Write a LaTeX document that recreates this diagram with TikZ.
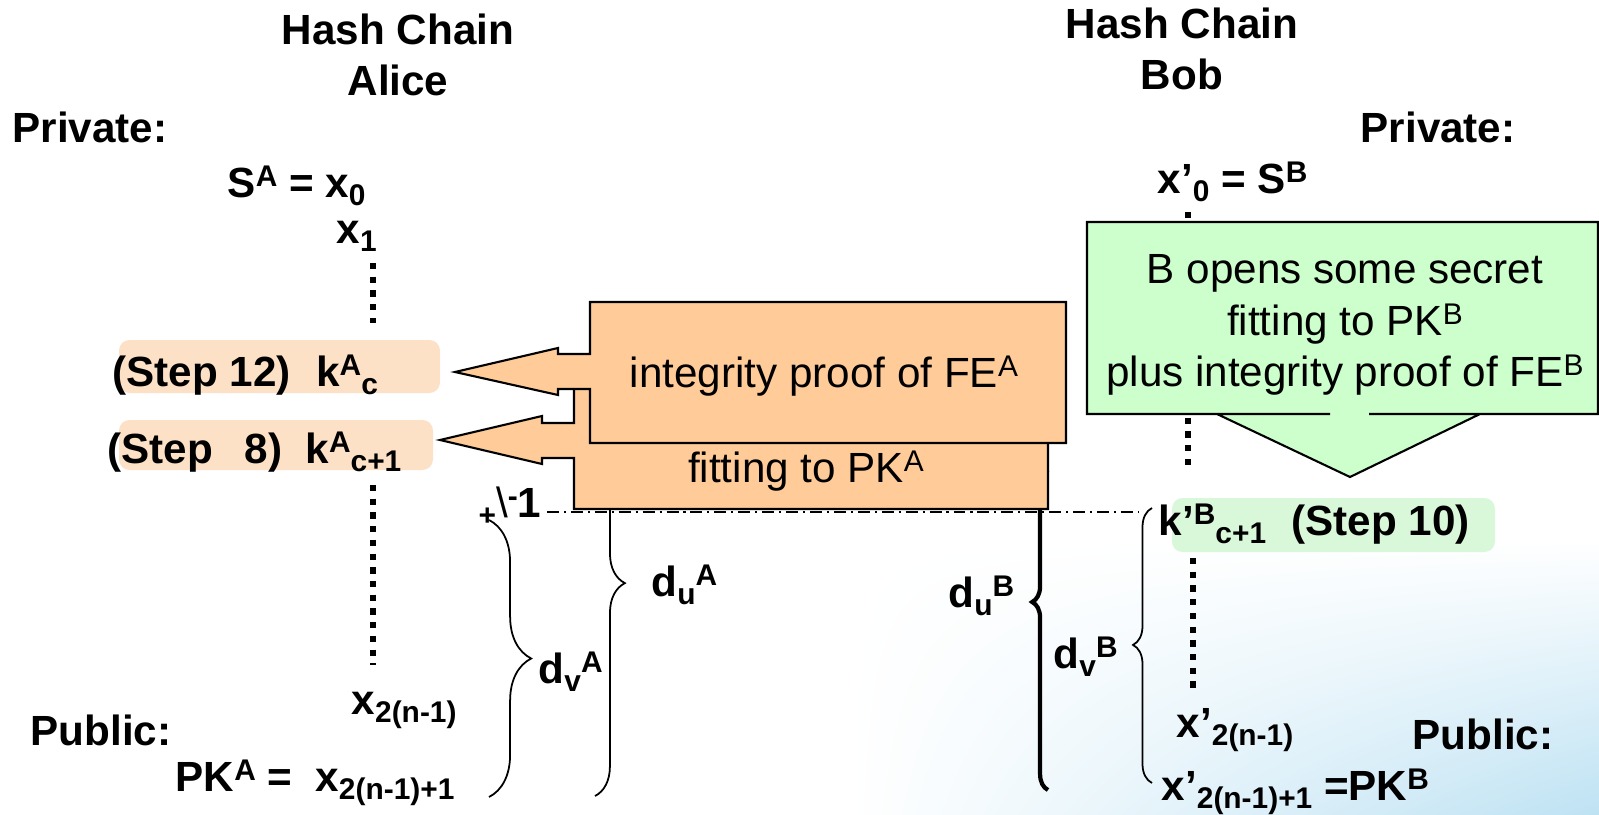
\documentclass[tikz,border=0pt]{standalone}
\usepackage{fontspec}
\setmainfont{Liberation Sans}
\usetikzlibrary{decorations.pathreplacing,shadings}

\definecolor{fillA}{RGB}{255,204,153}
\definecolor{fillB}{RGB}{204,255,204}
\definecolor{markA}{RGB}{252,225,198}
\definecolor{markB}{RGB}{217,248,217}
\definecolor{tint}{RGB}{190,226,243}

\newcommand{\supx}[1]{\raisebox{3pt}{\fontsize{8.5}{9}\selectfont #1}}
\newcommand{\subx}[1]{\raisebox{-2.4pt}{\fontsize{8.5}{9}\selectfont #1}}

\begin{document}
\begin{tikzpicture}[x=0.01cm, y=-0.01cm,
  every node/.style={inner sep=0pt, font=\fontsize{12}{14.4}\selectfont},
  lbl/.style={anchor=base west, font=\fontsize{12}{14.4}\selectfont\bfseries},
  chain/.style={line width=1.8pt, dash pattern=on 1.8pt off 2.1pt},
  cut/.style={line width=0.4pt, dash pattern=on 3.4pt off 1.4pt on 0.6pt off 1.4pt},
  callA/.style={draw=black, line width=0.6pt, fill=fillA},
  callB/.style={draw=black, line width=0.6pt, fill=fillB}]
  \useasboundingbox (0,0) rectangle (1599,815);
  %
  \shade[upper left=white, upper right=white, lower left=white, lower right=tint]
    (850,540) rectangle (1599,815);
  %
  \fill[markA, rounded corners=3pt] (119,340) rectangle (440,393);
  \fill[markA, rounded corners=3pt] (119,420) rectangle (433,470);
  \fill[markB, rounded corners=3pt] (1172,498) rectangle (1495,552);
  %
  \coordinate (a0) at (373,263);
  \coordinate (a1) at (373,323);
  \coordinate (a2) at (373,485);
  \coordinate (a3) at (373,665);
  \coordinate (b0) at (1188,212);
  \coordinate (b1) at (1188,466);
  \coordinate (b2) at (1193,558);
  \coordinate (b3) at (1193,690);
  \foreach \s/\e in {a0/a1, a2/a3, b0/b1, b2/b3} {
    \draw [chain] (\s) -- (\e);
  }
  \coordinate (cutL) at (547,512);
  \coordinate (cutR) at (1138,512);
  \draw [cut] (cutL) -- (cutR);
  %
  \draw [decorate, decoration={brace, amplitude=12pt, aspect=0.5}, line width=0.5pt]
    (489,520) -- (489,797);
  \draw [decorate, decoration={brace, amplitude=8.5pt, aspect=0.347}, line width=0.5pt]
    (595,470) -- (595,796);
  \draw [decorate, decoration={brace, amplitude=4.5pt, aspect=0.5875}, line width=1.2pt]
    (1048,790) -- (1048,470);
  \draw [decorate, decoration={brace, amplitude=5.4pt, aspect=0.502}, line width=0.5pt]
    (1152,783) -- (1152,508);
  %
  \draw [callA] (574,370) -- (1048,370) -- (1048,509) -- (574,509) -- (574,458)
    -- (542,458) -- (542,464) -- (440,440) -- (542,416) -- (542,423) -- (574,423) -- cycle;
  \draw [callA] (590,302) -- (1066,302) -- (1066,443) -- (590,443) -- (590,389)
    -- (558,389) -- (558,395) -- (455,372) -- (558,348) -- (558,354) -- (590,354) -- cycle;
  \draw [callB] (1087,222) -- (1598,222) -- (1598,414) -- (1369,414) -- (1480,414)
    -- (1350,477) -- (1217,414) -- (1330,414) -- (1087,414) -- cycle;
  %
  \node [anchor=base] (proofA) at (824,387) {integrity proof of FE\supx{A}};
  \node [anchor=base] (fitA) at (806,482) {fitting to PK\supx{A}};
  \node [align=center, font=\fontsize{12}{14.6}\selectfont] (openB) at (1345,325)
    {B opens some secret\\fitting to PK\supx{B}\\plus integrity proof of FE\supx{B}};
  %
  \node [lbl, anchor=center, align=center] (headA) at (398,55) {Hash Chain\\Alice};
  \node [lbl, anchor=center, align=center] (headB) at (1182,49) {Hash Chain\\Bob};
  \node [lbl] (privA) at (12,143) {Private:};
  \node [lbl] (privB) at (1360,143) {Private:};
  \node [lbl] (x0) at (227,197) {S\supx{A} = x\subx{0}};
  \node [lbl] (x1) at (336,243) {x\subx{1}};
  \node [lbl] (kc) at (112,386) {(Step 12)\hspace{0.6em}k\supx{A}\subx{c}};
  \node [lbl] (kc1) at (107,463) {(Step\hspace{0.75em}8)\hspace{0.55em}k\supx{A}\subx{c+1}};
  \node [lbl] (xn) at (351,714) {x\subx{2(n-1)}};
  \node [lbl] (pubA) at (30,745) {Public:};
  \node [lbl] (pkA) at (175,791) {PK\supx{A} =\hspace{0.55em}x\subx{2(n-1)+1}};
  \node [lbl] (mark) at (478,517) {\subx{+}{\mdseries\textbackslash}\supx{-}1};
  %
  \node [lbl] (duA) at (651,596) {d\subx{u}\supx{A}};
  \node [lbl] (dvA) at (538,683) {d\subx{v}\supx{A}};
  \node [lbl] (duB) at (948,607) {d\subx{u}\supx{B}};
  \node [lbl] (dvB) at (1053,668) {d\subx{v}\supx{B}};
  %
  \node [lbl] (xb0) at (1157,193) {x’\subx{0} = S\supx{B}};
  \node [lbl] (kb) at (1158,535) {k’\supx{B}\subx{c+1}\hspace{0.6em}(Step 10)};
  \node [lbl] (xbn) at (1176,737) {x’\subx{2(n-1)}};
  \node [lbl] (pubB) at (1412,749) {Public:};
  \node [lbl] (pkB) at (1161,800) {x’\subx{2(n-1)+1} =PK\supx{B}};
\end{tikzpicture}
\end{document}
